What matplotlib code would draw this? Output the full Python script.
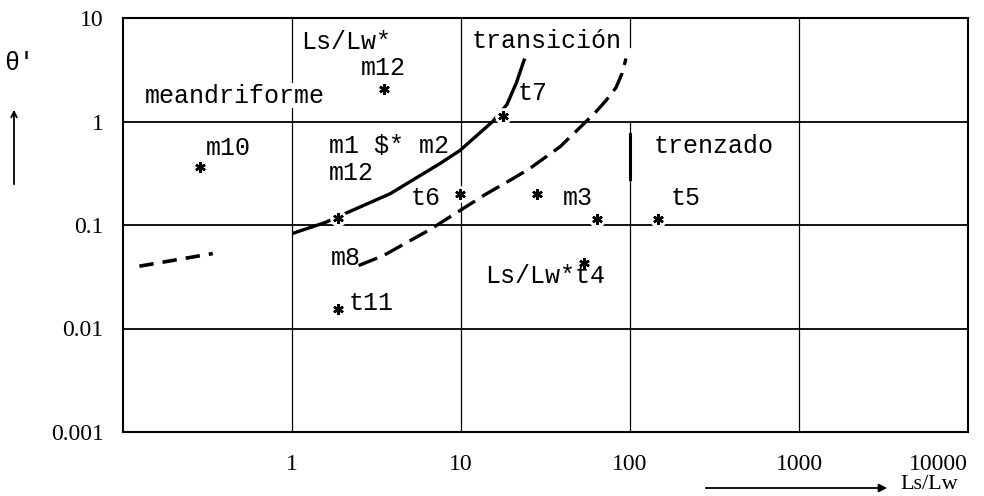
import matplotlib
matplotlib.use("Agg")
import matplotlib.pyplot as plt
from matplotlib.ticker import NullLocator

##- datos -##
x_ticks = [1, 10, 100, 1000, 10000]
x_ticklabels = ["1", "10", "100", "1000", "10000"]
y_ticks = [0.001, 0.01, 0.1, 1, 10]
y_ticklabels = ["0.001", "0.01", "0.1", "1", "10"]

# curva continua (limite meandriforme / transicion)
solid_x = [1.01, 1.58, 2.13, 3.82, 5.74, 7.52, 9.86, 12.6, 15.4, 18.7, 21.3, 23.8]
solid_y = [0.083, 0.106, 0.132, 0.201, 0.301, 0.393, 0.525, 0.749, 1.0, 1.46, 2.38, 4.06]

# curva discontinua (limite transicion / trenzado)
dash_x = [2.48, 3.48, 6.57, 9.86, 14.2, 19.4, 25.5, 38.7, 61.4, 71.3, 82.7, 89.7, 94.7]
dash_y = [0.0406, 0.0507, 0.0905, 0.138, 0.201, 0.269, 0.351, 0.573, 1.19, 1.56, 2.13, 2.91, 4.06]

# tramo discontinuo a la izquierda
left_x = [0.125, 0.34]
left_y = [0.040, 0.053]

# puntos (asteriscos)
pt_x = [0.284, 3.52, 1.86, 17.7, 9.9, 28.0, 64.0, 146.0, 53.6, 1.86]
pt_y = [0.36, 2.08, 0.116, 1.14, 0.20, 0.20, 0.115, 0.115, 0.0434, 0.0156]

# etiquetas (texto, x, y)
labels = [
    ("meandriforme", 0.135, 1.78),
    ("m10", 0.31, 0.56),
    ("Ls/Lw*", 1.13, 5.8),
    ("m12", 2.55, 3.32),
    ("transición", 11.6, 6.06),
    ("t7", 21.6, 1.9),
    ("m1 $* m2", 1.65, 0.586),
    ("m12", 1.65, 0.32),
    ("t6", 5.0, 0.184),
    ("m3", 39.8, 0.184),
    ("t5", 174, 0.184),
    ("trenzado", 138, 0.586),
    ("m8", 1.70, 0.0485),
    ("t11", 2.16, 0.0178),
    ("Ls/Lw*t4", 13.8, 0.0325),
]

mono = "Liberation Mono"
serif = "Liberation Serif"

fig = plt.figure(figsize=(9.84, 4.96), dpi=100)
ax = fig.add_axes([123/984, 64/496, 845/984, 414/496])
ax.set_xscale("log")
ax.set_yscale("log")
ax.set_xlim(0.1, 10000)
ax.set_ylim(0.001, 10)

ax.set_xticks(x_ticks)
ax.set_xticklabels(x_ticklabels, fontfamily=serif, fontsize=17)
ax.set_yticks(y_ticks)
ax.set_yticklabels(y_ticklabels, fontfamily=serif, fontsize=17)
ax.xaxis.set_minor_locator(NullLocator())
ax.yaxis.set_minor_locator(NullLocator())
ax.tick_params(axis="x", length=0, pad=16)
ax.tick_params(axis="y", length=0, pad=14)
last = ax.get_xticklabels()[-1]
last.set_horizontalalignment("right")

for s in ax.spines.values():
    s.set_linewidth(1.5)

##- reticula -##
for yv in [0.01, 0.1, 1]:
    ax.axhline(yv, color="black", lw=1.3, zorder=1)
for xv in [1, 10, 1000]:
    ax.axvline(xv, color="black", lw=0.9, zorder=1)
ax.axvline(100, ymin=0.0, ymax=0.75, color="black", lw=0.9, zorder=1)
ax.axvline(100, ymin=0.93, ymax=1.0, color="black", lw=0.9, zorder=1)
ax.axvline(100, ymin=0.612, ymax=0.72, color="black", lw=2.2, zorder=1)

##- curvas -##
ax.plot(solid_x, solid_y, color="black", lw=2.4, solid_capstyle="butt", zorder=2)
ax.plot(dash_x, dash_y, color="black", lw=2.4, dashes=(6, 2.5), zorder=2)
ax.plot(left_x, left_y, color="black", lw=2.6, dashes=(4, 2.5), zorder=2)

##- puntos -##
ax.plot(pt_x, pt_y, ls="none", marker="o", ms=11, color="white", zorder=2.5)
ax.plot(pt_x, pt_y, ls="none", marker=(6, 2, 0), ms=7.5, mew=1.8, color="black", zorder=4)

for txt, x, y in labels:
    t = ax.text(x, y, txt, fontfamily=mono, fontsize=18, ha="left", va="center", zorder=3)
    if txt == "meandriforme":
        t.set_bbox(dict(facecolor="white", edgecolor="none", pad=0.5))

##- ejes: titulos con flechas -##
fig.text(19/984, 433/496, "θ'", fontfamily=mono, fontsize=18, ha="center", va="center")
ax.annotate("", xy=(14, 389), xytext=(14, 309), xycoords="figure pixels",
            arrowprops=dict(arrowstyle="->", lw=1.3, color="black"))
ax.annotate("", xy=(890, 8), xytext=(703, 8), xycoords="figure pixels",
            arrowprops=dict(arrowstyle="-|>", lw=1.3, color="black", mutation_scale=12))
fig.text(900/984, 2/496, "Ls/Lw", fontfamily=serif, fontsize=16, ha="left", va="bottom")

fig.savefig("out.png", dpi=100)
